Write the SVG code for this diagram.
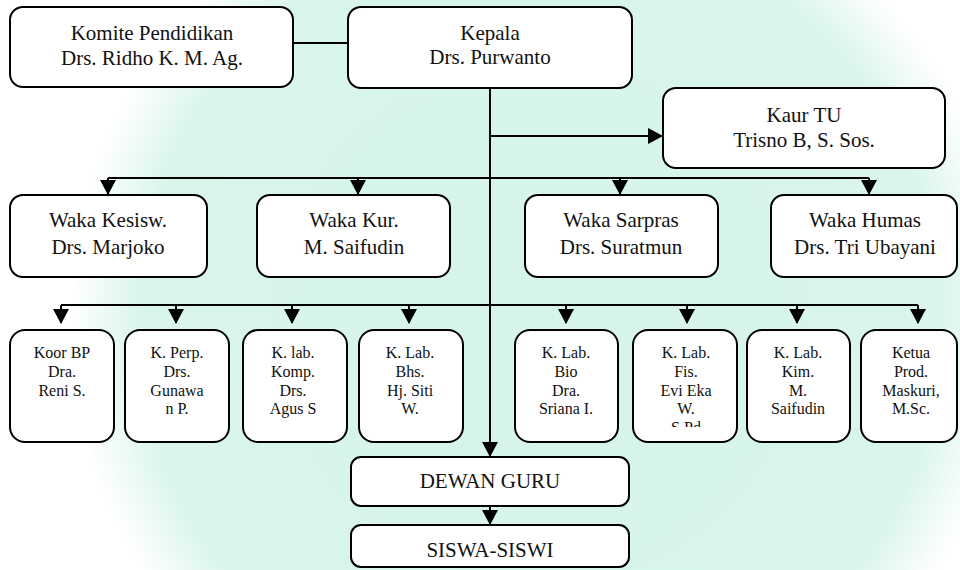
<svg xmlns="http://www.w3.org/2000/svg" width="960" height="570" viewBox="0 0 960 570">
  <defs>
    <style>
      .box { fill: #ffffff; stroke: #000000; stroke-width: 2; }
      .big { font-size: 21px; fill: #111111; text-anchor: middle; }
      .small { font-size: 16px; fill: #111111; text-anchor: middle; }
      .conn { stroke: #000000; stroke-width: 2; fill: none; }
      .arr { stroke: #000000; stroke-width: 2; fill: none; marker-end: url(#ah); }
    </style>
    <marker id="ah" viewBox="0 0 15 16" refX="14" refY="8" markerWidth="15" markerHeight="16" markerUnits="userSpaceOnUse" orient="auto">
      <path d="M0,0 L15,8 L0,16 Z" fill="#000000"/>
    </marker>
    <radialGradient id="wm" cx="0.5" cy="0.5" r="0.5">
      <stop offset="0" stop-color="#d6f4ea"/>
      <stop offset="0.85" stop-color="#d9f5ec"/>
      <stop offset="1" stop-color="#ffffff"/>
    </radialGradient>
    <clipPath id="clipFis">
      <rect x="633" y="330" width="104" height="97"/>
    </clipPath>
  </defs>

  <rect x="0" y="0" width="960" height="570" fill="#ffffff"/>
  <circle cx="540" cy="320" r="470" fill="url(#wm)"/>

  <g id="connectors">
    <line class="conn" x1="293" y1="43" x2="348" y2="43"/>
    <line class="arr" x1="490" y1="88" x2="490" y2="456"/>
    <line class="arr" x1="490" y1="136" x2="662" y2="136"/>
    <line class="conn" x1="108" y1="178" x2="869" y2="178"/>
    <line class="arr" x1="108" y1="178" x2="108" y2="194"/>
    <line class="arr" x1="358" y1="178" x2="358" y2="194"/>
    <line class="arr" x1="620" y1="178" x2="620" y2="194"/>
    <line class="arr" x1="869" y1="178" x2="869" y2="194"/>
    <line class="conn" x1="61" y1="305" x2="918" y2="305"/>
    <line class="arr" x1="61" y1="305" x2="61" y2="323"/>
    <line class="arr" x1="176" y1="305" x2="176" y2="323"/>
    <line class="arr" x1="292" y1="305" x2="292" y2="323"/>
    <line class="arr" x1="409" y1="305" x2="409" y2="323"/>
    <line class="arr" x1="566" y1="305" x2="566" y2="323"/>
    <line class="arr" x1="687" y1="305" x2="687" y2="323"/>
    <line class="arr" x1="797" y1="305" x2="797" y2="323"/>
    <line class="arr" x1="918" y1="305" x2="918" y2="323"/>
    <line class="arr" x1="490" y1="506" x2="490" y2="524"/>
  </g>

  <g font-family="'Liberation Serif', 'Times New Roman', serif">
  <g id="komite">
    <rect class="box" x="10" y="7" width="283" height="80" rx="13"/>
    <text class="big" x="152" y="40">Komite Pendidikan</text>
    <text class="big" x="152" y="65">Drs. Ridho K. M. Ag.</text>
  </g>
  <g id="kepala">
    <rect class="box" x="348" y="7" width="284" height="81" rx="13"/>
    <text class="big" x="490" y="40">Kepala</text>
    <text class="big" x="490" y="64">Drs. Purwanto</text>
  </g>
  <g id="kaur-tu">
    <rect class="box" x="663" y="88" width="282" height="80" rx="13"/>
    <text class="big" x="804" y="122">Kaur TU</text>
    <text class="big" x="804" y="147">Trisno B, S. Sos.</text>
  </g>

  <g id="waka-kesisw">
    <rect class="box" x="10" y="195" width="197" height="82" rx="13"/>
    <text class="big" x="108" y="227">Waka Kesisw.</text>
    <text class="big" x="108" y="254">Drs. Marjoko</text>
  </g>
  <g id="waka-kur">
    <rect class="box" x="257" y="195" width="193" height="82" rx="13"/>
    <text class="big" x="354" y="227">Waka Kur.</text>
    <text class="big" x="354" y="254">M. Saifudin</text>
  </g>
  <g id="waka-sarpras">
    <rect class="box" x="525" y="195" width="193" height="82" rx="13"/>
    <text class="big" x="621" y="227">Waka Sarpras</text>
    <text class="big" x="621" y="254">Drs. Suratmun</text>
  </g>
  <g id="waka-humas">
    <rect class="box" x="771" y="195" width="186" height="82" rx="13"/>
    <text class="big" x="865" y="227">Waka Humas</text>
    <text class="big" x="865" y="254">Drs. Tri Ubayani</text>
  </g>

  <g id="koor-bp">
    <rect class="box" x="10" y="330" width="104" height="112" rx="15"/>
    <text class="small" x="62" y="358">Koor BP</text>
    <text class="small" x="62" y="377">Dra.</text>
    <text class="small" x="62" y="396">Reni S.</text>
  </g>
  <g id="k-perp">
    <rect class="box" x="125" y="330" width="104" height="112" rx="15"/>
    <text class="small" x="177" y="358">K. Perp.</text>
    <text class="small" x="177" y="377">Drs.</text>
    <text class="small" x="177" y="396">Gunawa</text>
    <text class="small" x="177" y="414">n P.</text>
  </g>
  <g id="k-lab-komp">
    <rect class="box" x="243" y="330" width="104" height="112" rx="15"/>
    <text class="small" x="293" y="358">K. lab.</text>
    <text class="small" x="293" y="377">Komp.</text>
    <text class="small" x="293" y="396">Drs.</text>
    <text class="small" x="293" y="414">Agus S</text>
  </g>
  <g id="k-lab-bhs">
    <rect class="box" x="359" y="330" width="104" height="112" rx="15"/>
    <text class="small" x="410" y="358">K. Lab.</text>
    <text class="small" x="410" y="377">Bhs.</text>
    <text class="small" x="410" y="396">Hj. Siti</text>
    <text class="small" x="410" y="414">W.</text>
  </g>
  <g id="k-lab-bio">
    <rect class="box" x="515" y="330" width="103" height="112" rx="15"/>
    <text class="small" x="566" y="358">K. Lab.</text>
    <text class="small" x="566" y="377">Bio</text>
    <text class="small" x="566" y="396">Dra.</text>
    <text class="small" x="566" y="414">Sriana I.</text>
  </g>
  <g id="k-lab-fis">
    <rect class="box" x="633" y="330" width="104" height="112" rx="15"/>
    <text class="small" x="686" y="358">K. Lab.</text>
    <text class="small" x="686" y="377">Fis.</text>
    <text class="small" x="686" y="396">Evi Eka</text>
    <text class="small" x="686" y="414">W.</text>
    <text class="small" x="686" y="433" clip-path="url(#clipFis)">S.Pd</text>
  </g>
  <g id="k-lab-kim">
    <rect class="box" x="747" y="330" width="103" height="112" rx="15"/>
    <text class="small" x="798" y="358">K. Lab.</text>
    <text class="small" x="798" y="377">Kim.</text>
    <text class="small" x="798" y="396">M.</text>
    <text class="small" x="798" y="414">Saifudin</text>
  </g>
  <g id="ketua-prod">
    <rect class="box" x="861" y="330" width="96" height="112" rx="15"/>
    <text class="small" x="911" y="358">Ketua</text>
    <text class="small" x="911" y="377">Prod.</text>
    <text class="small" x="911" y="396">Maskuri,</text>
    <text class="small" x="911" y="414">M.Sc.</text>
  </g>

  <g id="dewan-guru">
    <rect class="box" x="351" y="457" width="278" height="49" rx="10"/>
    <text class="big" x="490" y="488">DEWAN GURU</text>
  </g>
  <g id="siswa-siswi">
    <rect class="box" x="351" y="525" width="278" height="42" rx="10"/>
    <text class="big" x="490" y="557">SISWA-SISWI</text>
  </g>
  </g>
</svg>
